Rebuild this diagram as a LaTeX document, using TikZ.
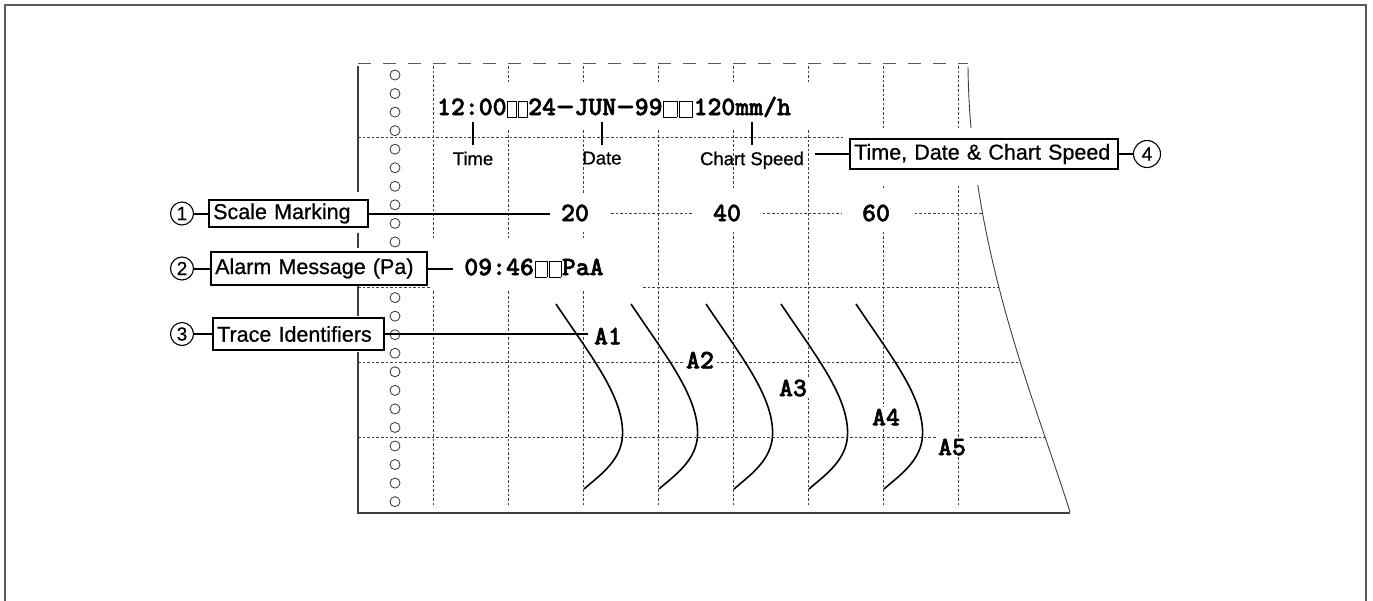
\documentclass[tikz,border=0pt]{standalone}
\usepackage{fontspec}
\setmainfont{Liberation Sans}[FakeBold=0.7]
\newfontfamily\monofam{lmmonolt10-bold.otf}[FakeBold=2]
\usepackage{graphicx}
\usetikzlibrary{calc}
\newcommand{\tofu}[1]{{\setlength{\fboxsep}{0pt}\setlength{\fboxrule}{0.8pt}\makebox[#1][c]{\raisebox{-1.5pt}{\fbox{\rule{0pt}{15pt}\hspace{\dimexpr#1-2.8pt\relax}}}}}}
\newcommand{\wdash}{\makebox[18.5pt][c]{\scalebox{1.35}[1]{—}}}
\begin{document}
\begin{tikzpicture}[x=1pt,y=-1pt,
  gridline/.style={draw=black!75, line width=0.8pt, dash pattern=on 2.6pt off 2pt},
  papertop/.style={draw=black!65, line width=1pt, dash pattern=on 13pt off 12pt},
  paperedge/.style={draw=black!75, line width=1.1pt},
  hole/.style={draw=black!80, line width=0.8pt},
  trace/.style={draw=black, line width=1.6pt},
  leader/.style={draw=black, line width=2pt},
  tick/.style={draw=black, line width=1.6pt},
  mono/.style={font=\monofam\fontsize{26.5}{28}\selectfont, text=black},
  monolbl/.style={mono, fill=white, inner sep=2pt},
  small/.style={font=\fontsize{18.5}{20}\selectfont, text=black, inner sep=0pt, anchor=north},
  lbox/.style={draw=black, line width=2.4pt, fill=white, anchor=west, align=left,
    inner xsep=4pt, inner ysep=0pt, font=\fontsize{21.5}{24}\selectfont, text=black},
  num/.style={circle, draw=black, line width=1.1pt, fill=white, inner sep=0pt,
    minimum size=23pt, font=\fontsize{19}{20}\selectfont},
  mask/.style={fill=white}
]
\useasboundingbox (0,0) rectangle (1373,600);
% outer frame
\draw[black!65, line width=2pt] (4.5,610) -- (4.5,4.5) -- (1365.5,4.5) -- (1365.5,610);

% horizontal grid lines, clipped to the paper
\begin{scope}
  \clip (358,60) -- (968,60) -- (968,67) .. controls (970,250) and (1035,400) .. (1070,512) -- (358,512) -- cycle;
  \foreach \y in {137,213,287,362,437}
    \draw[gridline] (358,\y) -- (1100,\y);
\end{scope}
% vertical grid lines
\foreach \x in {433,508,...,958}
  \draw[gridline] (\x,66) -- (\x,505);

% paper edges
\draw[papertop] (358,63) -- (968,63);
\draw[paperedge] (358,66) -- (358,513) -- (1070,513);
\draw[paperedge, line width=0.9pt] (968,67) .. controls (970,250) and (1035,400) .. (1070,512);

% traces
\foreach \i in {0,...,4}
  \draw[trace] ({556+75*\i},304) .. controls ({590+75*\i},355) and ({622.6+75*\i},395) .. ({622.6+75*\i},433)
     .. controls ({622.6+75*\i},460) and ({600+75*\i},475) .. ({584+75*\i},489);

% white masks behind texts and boxes
\fill[mask] (436,83) rectangle (810,128);
\fill[mask] (205,192) rectangle (370,233);
\fill[mask] (205,248) rectangle (430,286);
\fill[mask] (430,238) rectangle (642,290);
\fill[mask] (205,316) rectangle (386,352);
\fill[mask] (550,195) rectangle (610,232);
\fill[mask] (692,190) rectangle (763,232);
\fill[mask] (842,190) rectangle (913,232);
\fill[mask] (843,128) rectangle (1123,185);

% sprocket holes
\foreach \k in {0,...,23}
  \draw[hole] (395,{75+18.55*\k}) circle[radius=5];

% header texts
\node[mono, anchor=base, inner sep=0pt, text depth=0pt] (hdr) at (614,115)
  {12:00\tofu{10.8pt}\tofu{10.8pt}24\wdash JUN\wdash 99\tofu{15.5pt}\tofu{15.5pt}120mm/h};
\node[small] (tm) at (473,151.5) {Time};
\node[small] (dt) at (602,151.5) {Date};
\node[small] (cs) at (752,151.5) {Chart Speed};
\draw[tick] ($(hdr.south -| tm.north)+(0,7)$) -- ($(tm.north)+(0,-7)$);
\draw[tick] ($(hdr.south -| dt.north)+(0,7)$) -- ($(dt.north)+(0,-7)$);
\draw[tick] ($(hdr.south -| cs.north)+(0,7)$) -- ($(cs.north)+(0,-7)$);

% scale numbers
\node[mono, inner xsep=11pt] (v20) at (575,213) {20};
\node[mono] (v40) at (727,213) {40};
\node[mono] (v60) at (876,213) {60};

% alarm message
\node[mono, inner xsep=11pt] (almtxt) at (534,268) {09:46\tofu{14pt}\tofu{14pt}PaA};

% trace identifiers
\node[monolbl, inner xsep=6pt] (a1) at (608,336) {A1};
\node[monolbl] (a2) at (700,360) {A2};
\node[monolbl] (a3) at (793,388) {A3};
\node[monolbl] (a4) at (886,417) {A4};
\node[monolbl] (a5) at (952,447) {A5};

% callout boxes
\node[lbox, text width=151pt, minimum height=27pt] (scale) at (208,213.5) {Scale Marking};
\node[lbox, text width=208pt, minimum height=33pt] (alarm) at (210,268.5) {Alarm Message (Pa)};
\node[lbox, text width=163pt, minimum height=32pt] (trace) at (212,334) {Trace Identifiers};
\node[lbox, text width=260pt, minimum height=30pt] (tdc) at (849,154) {Time, Date \& Chart Speed};

% circled numbers
\node[num] (n1) at (182,213.5) {1};
\node[num] (n2) at (182,268.5) {2};
\node[num] (n3) at (182,334) {3};
\node[num, minimum size=27pt] (n4) at (1147,154) {4};

% leaders
\draw[leader] (n1.east) -- (scale.west);
\draw[leader] (scale.east) -- (scale.east -| v20.west);
\draw[leader] (n2.east) -- (alarm.west);
\draw[leader] (alarm.east) -- (alarm.east -| almtxt.west);
\draw[leader] (n3.east) -- (trace.west);
\draw[leader] (trace.east) -- (trace.east -| a1.west);
\draw[leader] ($(cs.east |- tdc.west)+(11,0)$) -- (tdc.west);
\draw[leader] (tdc.east) -- (n4.west);
\end{tikzpicture}
\end{document}
